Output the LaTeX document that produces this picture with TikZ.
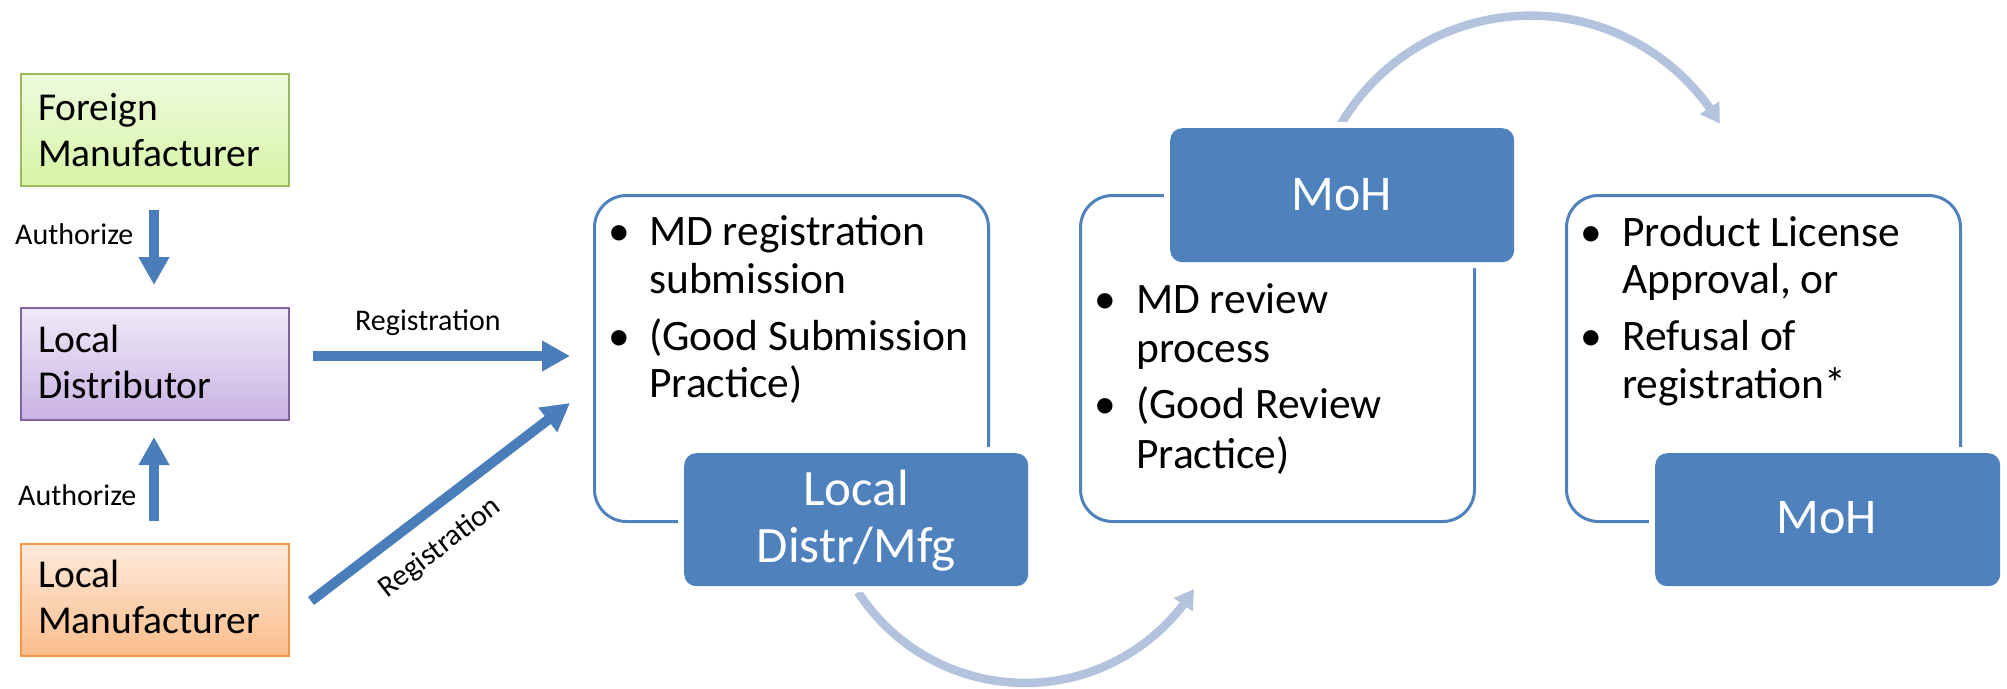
\documentclass[tikz,border=0pt]{standalone}
\usepackage{fontspec}
\setmainfont{Carlito}
\usetikzlibrary{arrows.meta,bending}
\definecolor{dkblue}{HTML}{4F81BD}
\definecolor{arrblue}{HTML}{4A7EBB}
\definecolor{arcblue}{HTML}{B3C3DE}
\definecolor{grnbd}{HTML}{9BBB59}
\definecolor{grntop}{HTML}{EEFBDE}
\definecolor{grnbot}{HTML}{D6F4A6}
\definecolor{purbd}{HTML}{8064A2}
\definecolor{purtop}{HTML}{EFE9F7}
\definecolor{purbot}{HTML}{C9B3E3}
\definecolor{orbd}{HTML}{F79646}
\definecolor{ortop}{HTML}{FDEADB}
\definecolor{orbot}{HTML}{FBBD8B}
\begin{document}
\begin{tikzpicture}[x=1pt,y=-1pt,
  srcbox/.style={draw, line width=1.8pt, minimum width=268pt, minimum height=112pt, inner sep=0pt, anchor=north west},
  srctxt/.style={anchor=base west, inner sep=0pt, font=\fontsize{39.5}{46}\selectfont},
  outbox/.style={draw=dkblue, line width=3pt, rounded corners=32pt, minimum width=394pt, minimum height=326pt, inner sep=0pt, anchor=north west},
  darkbox/.style={fill=dkblue, rounded corners=12pt, preaction={draw=white, line width=12pt}, minimum width=344pt, minimum height=133pt, inner sep=0pt, anchor=north west, text=white},
  whtxt/.style={anchor=base, inner sep=0pt, text=white},
  btxt/.style={anchor=base west, inner sep=0pt, font=\fontsize{43.5}{48}\selectfont},
  bul/.style={anchor=base, inner sep=0pt, font=\fontsize{43.5}{48}\selectfont},
  lbl/.style={inner sep=0pt, font=\fontsize{30}{36}\selectfont},
  fatarrow/.style={draw=arrblue, line width=10pt, -{Triangle[width=29pt,length=28pt]}},
  arcarrow/.style={draw=arcblue, line width=8.5pt, -{Triangle[width=22pt,length=19pt]}}
]
\useasboundingbox (0,0) rectangle (2007,688);

% source boxes
\node[srcbox, draw=grnbd, top color=grntop, bottom color=grnbot] (fm) at (20,73) {};
\node[srcbox, draw=purbd, top color=purtop, bottom color=purbot] (ldist) at (20,307) {};
\node[srcbox, draw=orbd, top color=ortop, bottom color=orbot] (lman) at (20,543) {};
\node[srctxt] (fm1) at (38,120) {Foreign};
\node[srctxt] (fm2) at (38,166) {Manufacturer};
\node[srctxt] (ld1) at (38,352) {Local};
\node[srctxt] (ld2) at (38,398) {Distributor};
\node[srctxt] (lm1) at (38,587) {Local};
\node[srctxt] (lm2) at (38,633) {Manufacturer};

% authorize arrows
\coordinate (a1s) at (154,210);
\coordinate (a1e) at (154,285);
\coordinate (a2s) at (154,521);
\coordinate (a2e) at (154,437);
\draw[fatarrow] (a1s) -- (a1e);
\draw[fatarrow] (a2s) -- (a2e);
\node[lbl, anchor=base west] (auth1) at (15,244) {Authorize};
\node[lbl, anchor=base west] (auth2) at (18,505) {Authorize};

% registration arrows
\coordinate (r1s) at (313,356);
\coordinate (r1e) at (570,356);
\coordinate (r2s) at (311,601);
\coordinate (r2e) at (570,403);
\draw[fatarrow] (r1s) -- (r1e);
\draw[fatarrow] (r2s) -- (r2e);
\node[lbl, anchor=base west] (reg1) at (355,330) {Registration};
\node[lbl, anchor=center, rotate=37.5] (reg2) at (440,548) {Registration};

% outline boxes
\node[outbox] (sub) at (593,194) {};
\node[outbox] (rev) at (1079,194) {};
\node[outbox] (res) at (1565,194) {};

% curved arrows
\coordinate (c1s) at (858,592);
\draw[arcarrow] (c1s) arc[start angle=147.1, end angle=31.9, radius=199];
\coordinate (c2s) at (1341,124);
\draw[arcarrow] (c2s) arc[start angle=-149.5, end angle=-30.6, radius=220];

% dark boxes
\node[darkbox] (ldm) at (684,453) {};
\node[whtxt, font=\fontsize{51}{57}\selectfont] (ldm1) at (856,505) {Local};
\node[whtxt, font=\fontsize{51}{57}\selectfont] (ldm2) at (856,562) {Distr/Mfg};
\node[darkbox, minimum height=134pt] (moh1) at (1170,128) {};
\node[whtxt, font=\fontsize{50}{56}\selectfont] (moh1t) at (1342,210) {MoH};
\node[darkbox, minimum width=345pt] (moh2) at (1655,453) {};
\node[whtxt, font=\fontsize{50}{56}\selectfont] (moh2t) at (1827,533) {MoH};

% bullet texts: submission box
\node[bul] (sb1) at (619,245) {•};
\node[btxt] (st1) at (649,245) {MD registration};
\node[btxt] (st2) at (649,293) {submission};
\node[bul] (sb2) at (619,350) {•};
\node[btxt] (st3) at (649,350) {(Good Submission};
\node[btxt] (st4) at (649,397) {Practice)};

% review box
\node[bul] (vb1) at (1105,313) {•};
\node[btxt] (vt1) at (1136,313) {MD review};
\node[btxt] (vt2) at (1136,362) {process};
\node[bul] (vb2) at (1105,418) {•};
\node[btxt] (vt3) at (1136,418) {(Good Review};
\node[btxt] (vt4) at (1136,468) {Practice)};

% result box
\node[bul] (rb1) at (1591,246) {•};
\node[btxt] (rt1) at (1622,246) {Product License};
\node[btxt] (rt2) at (1622,293) {Approval, or};
\node[bul] (rb2) at (1591,350) {•};
\node[btxt] (rt3) at (1622,350) {Refusal of};
\node[btxt] (rt4) at (1622,398) {registration*};
\end{tikzpicture}
\end{document}
